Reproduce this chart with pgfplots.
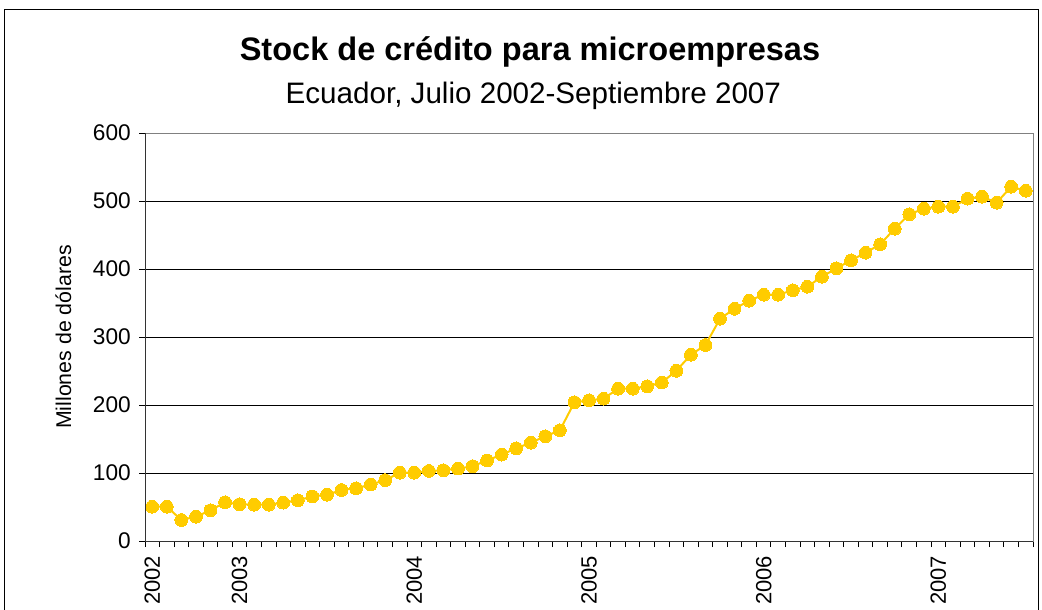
\documentclass[border=0pt]{standalone}
\usepackage{fontspec}
\setmainfont{Liberation Sans}
\usepackage{pgfplots}
\pgfplotsset{compat=1.18}
\definecolor{oro}{HTML}{FFCC00}

\begin{document}
\begin{tikzpicture}
\useasboundingbox (0,0) rectangle (781.5pt,-457.5pt);
\draw[black, line width=0.75pt] (3pt,-7.5pt) rectangle (778.5pt,-490pt);
\node[font=\fontsize{24.4}{28}\selectfont\bfseries] at (397.5pt,-39pt) {Stock de crédito para microempresas};
\node[font=\fontsize{22.2}{26}\selectfont] at (400pt,-72pt) {Ecuador, Julio 2002-Septiembre 2007};
\begin{axis}[
  at={(108.75pt,-405.75pt)}, anchor=south west,
  scale only axis, width=666pt, height=306pt,
  xmin=-0.5, xmax=60.5, ymin=0, ymax=600,
  ytick={0,100,...,600},
  xtick={-0.5,0.5,...,60.5}, xticklabels={},
  extra x ticks={0,6,18,30,42,54},
  extra x tick labels={2002,2003,2004,2005,2006,2007},
  extra x tick style={major tick length=0pt, grid=none,
    tick label style={rotate=90, anchor=east, inner ysep=0pt, inner xsep=11pt,
      font=\fontsize{16.5}{19}\selectfont}},
  tick pos=left, tick align=outside,
  major tick length=4.5pt,
  tick style={black, line width=0.75pt},
  axis line style={draw=gray, line width=0.75pt},
  ymajorgrids, grid style={black, line width=0.75pt},
  tick label style={font=\fontsize{17}{20}\selectfont},
  /pgf/number format/assume math mode=true,
  yticklabel style={inner xsep=6pt},
  ylabel={Millones de dólares},
  ylabel style={font=\fontsize{16}{19}\selectfont, at={(axis description cs:-0.092,0.5)}, anchor=center},
  clip=false,
  after end axis/.code={
    \draw[black!80, line width=0.75pt] (rel axis cs:0,0) -- (rel axis cs:0,1);
    \draw[black!80, line width=0.75pt] (rel axis cs:0,0) -- (rel axis cs:1,0);
  },
]
\addplot[oro, line width=1.5pt, mark=*, mark size=4.8pt, mark options={fill=oro, draw=oro, line width=0pt}]
  coordinates {
  (0,50.4)(1,50.4)(2,30.9)(3,35.8)(4,45.1)(5,56.9)(6,54.0)(7,53.4)(8,53.4)(9,56.4)
  (10,59.8)(11,65.5)(12,68)(13,75)(14,77.5)(15,83)(16,89.5)(17,100.5)(18,100.5)(19,103)
  (20,104)(21,106.5)(22,110)(23,118.5)(24,127)(25,136.3)(26,144.6)(27,154)(28,162.8)(29,204)
  (30,206.9)(31,209.3)(32,224)(33,224)(34,227.5)(35,233)(36,250.4)(37,274)(38,288.2)(39,326.9)
  (40,341.6)(41,353.4)(42,362.2)(43,362.2)(44,368.7)(45,374)(46,388.7)(47,401)(48,412.8)(49,424)
  (50,436.3)(51,459.3)(52,480.4)(53,488.7)(54,491.6)(55,491.6)(56,503.4)(57,506.3)(58,497.5)(59,521)
  (60,515.1)
  };
\end{axis}
\end{tikzpicture}
\end{document}
